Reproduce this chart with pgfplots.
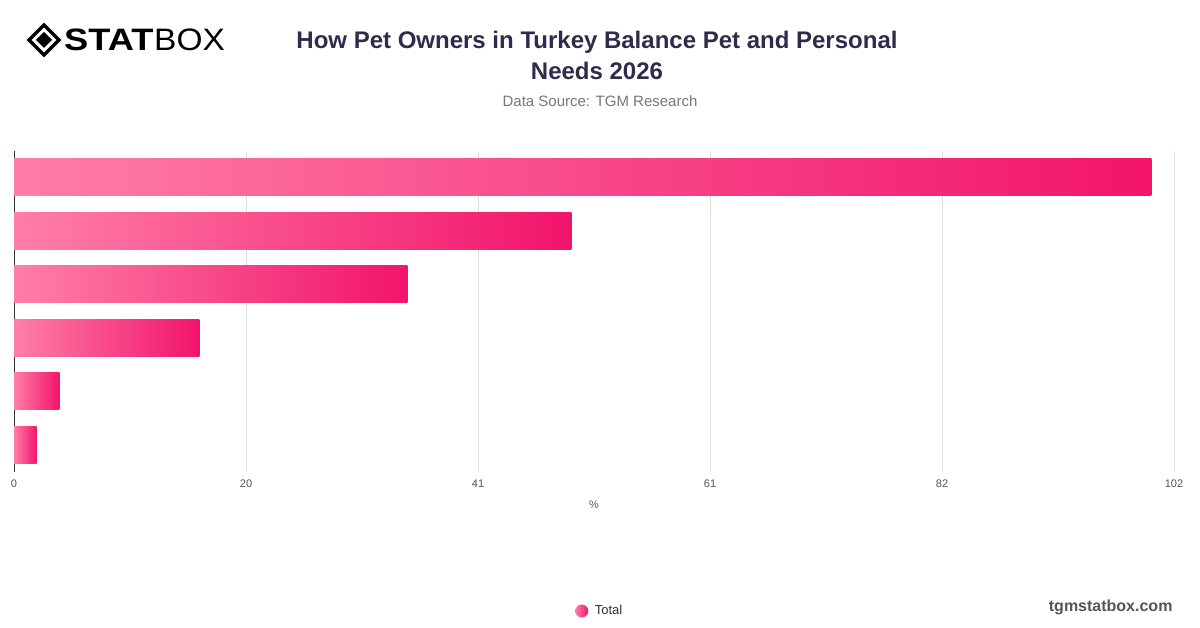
\documentclass[border=0pt]{standalone}
\usepackage{pgfplots}
\pgfplotsset{compat=1.18}
\usepackage{fontspec}
\setmainfont{Liberation Sans}
\definecolor{barlight}{HTML}{FF7EA8}
\definecolor{bardark}{HTML}{F2146B}
\definecolor{titlecol}{HTML}{2F2B4B}
\definecolor{subcol}{HTML}{777777}
\definecolor{tickcol}{HTML}{555555}
\definecolor{gridcol}{HTML}{DDDDDD}

\begin{document}
\begin{tikzpicture}[x=1pt,y=1pt]
\path[fill=white] (0,0) rectangle (1200,628);

% logo
\begin{scope}[shift={(44,588)}]
  \draw[line width=3.2pt, line join=miter] (0,15) -- (15,0) -- (0,-15) -- (-15,0) -- cycle;
  \fill (0,8) -- (8,0) -- (0,-8) -- (-8,0) -- cycle;
\end{scope}
\node[anchor=west, inner sep=0, xscale=1.17] at (64,588) {\fontsize{31}{31}\selectfont\bfseries STAT};
\node[anchor=west, inner sep=0, xscale=1.08] at (154,588) {\fontsize{31}{31}\selectfont BOX};

% titles
\node[align=center, text=titlecol, font=\fontsize{24}{31}\selectfont\bfseries] at (597,572.5)
  {How Pet Owners in Turkey Balance Pet and Personal\\Needs 2026};
\node[text=subcol, font=\fontsize{15}{18}\selectfont] at (600,527) {Data Source: TGM Research};
\node[anchor=east, text=tickcol, font=\fontsize{16}{18}\selectfont\bfseries] at (1176,21) {tgmstatbox.com};

\begin{axis}[
    at={(14pt,156.3pt)}, anchor=south west,
    scale only axis, width=1160pt, height=321pt,
    xmin=0, xmax=102, ymin=-0.5, ymax=5.5,
    xbar, bar width=37pt, bar shift=0pt,
    axis lines*=left,
    x axis line style={draw=none},
    y axis line style={draw=black!80, line width=1pt},
    ytick=\empty,
    xtick={0,20.4,40.8,61.2,81.6,102},
    xticklabels={0,20,41,61,82,102},
    major tick length=0pt,
    xmajorgrids,
    grid style={draw=gridcol, line width=0.8pt},
    tick label style={font=\fontsize{11}{13}\selectfont, text=tickcol},
    xticklabel style={yshift=-5pt},
    xlabel={\%},
    every axis x label/.style={at={(axis description cs:0.5,0)}, anchor=center, yshift=-33.5pt,
      font=\fontsize{11}{13}\selectfont, text=tickcol},
    legend style={at={(axis description cs:0.505,-0.434)}, anchor=center, draw=none, fill=none,
      font=\fontsize{13}{15}\selectfont, text=black!80},
    legend image code/.code={\shade[left color=barlight, right color=bardark] (0,0) circle (6.5pt);
      \path (11pt,0);},
    barstyle/.style={xbar, draw=none, left color=barlight, right color=bardark},
]
\addplot[barstyle] coordinates {(100,5)};
\addlegendentry{Total}
\addplot[barstyle, forget plot] coordinates {(49,4)};
\addplot[barstyle, forget plot] coordinates {(34.6,3)};
\addplot[barstyle, forget plot] coordinates {(16.3,2)};
\addplot[barstyle, forget plot] coordinates {(4,1)};
\addplot[barstyle, forget plot] coordinates {(2,0)};
\end{axis}
\end{tikzpicture}
\end{document}
